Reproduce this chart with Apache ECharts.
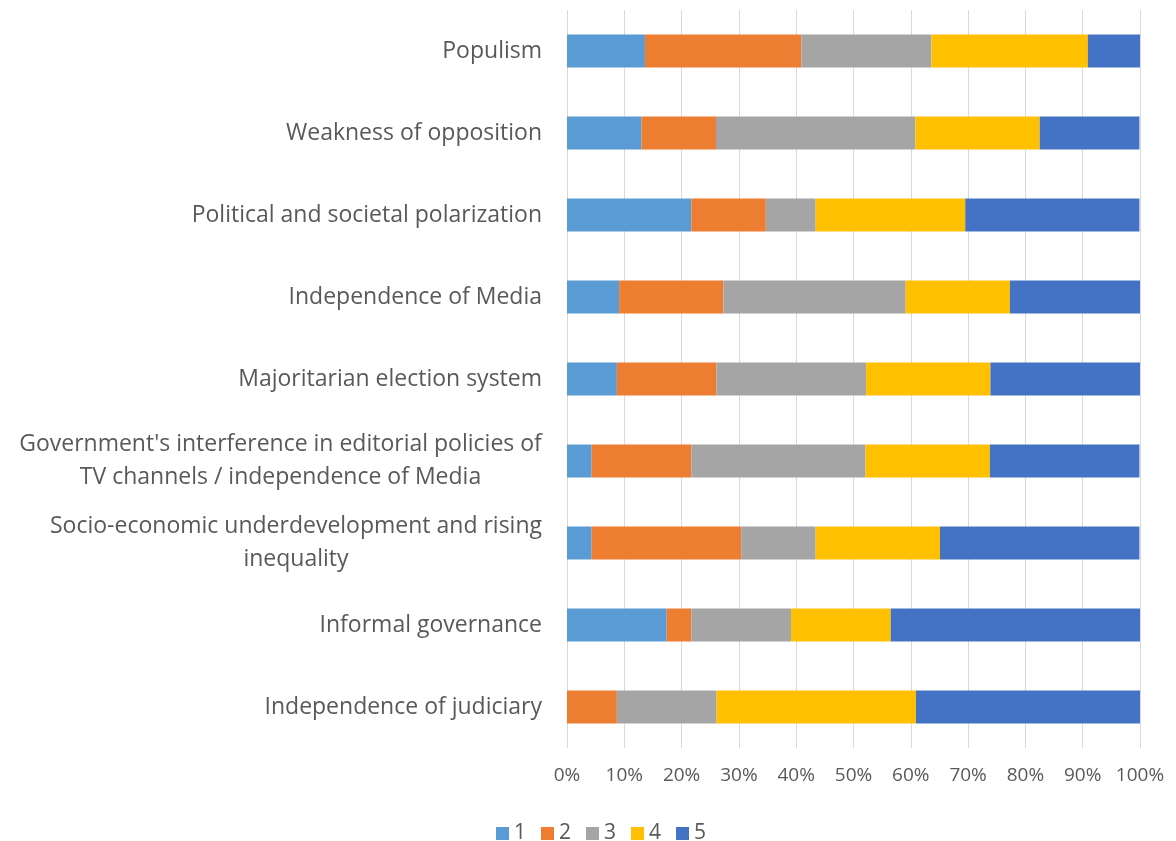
<!DOCTYPE html>
<html>
<head>
<meta charset="utf-8">
<script src="https://cdn.jsdelivr.net/npm/echarts@6/dist/echarts.min.js"></script>
<style>
  html, body { margin: 0; padding: 0; background: #ffffff; }
  #chart { width: 1176px; height: 841px; }
</style>
</head>
<body>
<div id="chart"></div>
<script>
// Factors, listed bottom to top as they appear on the category axis
const categories = [
  "Independence of judiciary",
  "Informal governance",
  "Socio-economic underdevelopment and rising\ninequality",
  "Government's interference in editorial policies of\nTV channels / independence of Media",
  "Majoritarian election system",
  "Independence of Media",
  "Political and societal polarization",
  "Weakness of opposition",
  "Populism"
];

// Share of answers (%) for each rating, same order as categories
const rating1 = [0.0, 17.4, 4.3, 4.3, 8.7, 9.1, 21.7, 13.0, 13.6];
const rating2 = [8.7, 4.3, 26.1, 17.4, 17.4, 18.2, 13.0, 13.0, 27.3];
const rating3 = [17.4, 17.4, 13.0, 30.4, 26.1, 31.8, 8.7, 34.8, 22.7];
const rating4 = [34.8, 17.4, 21.7, 21.7, 21.7, 18.2, 26.1, 21.7, 27.3];
const rating5 = [39.1, 43.5, 34.8, 26.1, 26.1, 22.7, 30.4, 17.4, 9.1];

const seriesNames = ["1", "2", "3", "4", "5"];
const seriesData = [rating1, rating2, rating3, rating4, rating5];
const colors = ["#5B9BD5", "#ED7D31", "#A5A5A5", "#FFC000", "#4472C4"];

const xTicks = [0, 10, 20, 30, 40, 50, 60, 70, 80, 90, 100];

const catFontSize = 23;
const labelFont = catFontSize + 'px "Open Sans"';
const measureCtx = document.createElement('canvas').getContext('2d');
function textWidth(s) {
  measureCtx.font = labelFont;
  return measureCtx.measureText(s).width;
}

// Multi-line category labels: each line centred within the block
const richStyles = {};
function formatCategory(value, idx) {
  const lines = value.split('\n');
  if (lines.length === 1) return value;
  const w = Math.ceil(Math.max.apply(null, lines.map(textWidth)));
  const key = 'c' + idx;
  richStyles[key] = { width: w, align: 'center', fontSize: catFontSize, lineHeight: 33,
                      fontFamily: 'Open Sans', color: '#595959' };
  return lines.map(l => '{' + key + '|' + l + '}').join('\n');
}
const formattedCats = categories.map(formatCategory);

const chart = echarts.init(document.getElementById('chart'), null, { renderer: 'canvas' });

chart.setOption({
  animation: false,
  textStyle: { fontFamily: 'Open Sans' },
  grid: { left: 567, right: 36, top: 10, bottom: 93, containLabel: false },
  legend: {
    data: seriesNames,
    left: 491,
    top: 818,
    itemWidth: 13,
    itemHeight: 13,
    itemGap: 15,
    icon: 'rect',
    textStyle: { fontSize: 21, color: '#595959', fontFamily: 'Open Sans' }
  },
  xAxis: {
    type: 'value',
    min: 0,
    max: 100,
    interval: 10,
    axisLine: { show: false },
    axisTick: { show: false },
    splitLine: { show: true, lineStyle: { color: '#D9D9D9', width: 1 } },
    axisLabel: {
      margin: 18,
      fontSize: 19,
      color: '#595959',
      formatter: v => (xTicks.indexOf(v) >= 0 ? v + '%' : '')
    }
  },
  yAxis: {
    type: 'category',
    data: formattedCats,
    axisLine: { show: false },
    axisTick: { show: false },
    axisLabel: {
      margin: 25,
      fontSize: catFontSize,
      lineHeight: 33,
      color: '#595959',
      align: 'right',
      rich: richStyles
    }
  },
  series: seriesData.map((d, i) => ({
    name: seriesNames[i],
    type: 'bar',
    stack: 'total',
    barWidth: 33,
    itemStyle: { color: colors[i] },
    data: d
  }))
});
</script>
</body>
</html>
